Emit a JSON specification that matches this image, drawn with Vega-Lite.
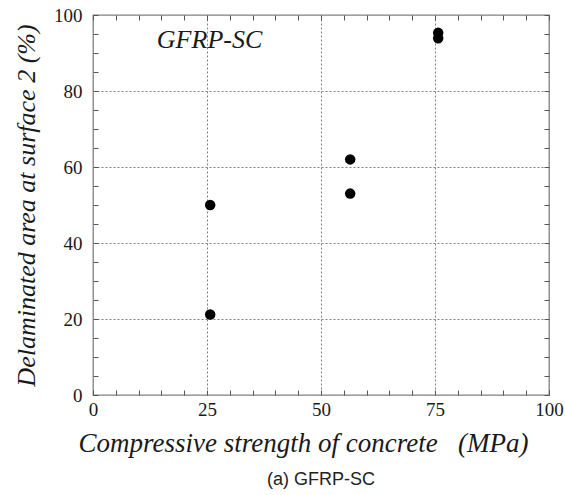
{
  "$schema": "https://vega.github.io/schema/vega-lite/v6.json",
  "width": 456,
  "height": 380,
  "autosize": {"type": "none"},
  "padding": {"left": 93, "top": 15, "right": 16, "bottom": 100},
  "background": "white",
  "config": {
    "view": {"stroke": "#808080", "strokeWidth": 1.3}
  },
  "title": {
    "text": "(a) GFRP-SC",
    "orient": "bottom",
    "anchor": "middle",
    "font": "Liberation Sans",
    "fontSize": 18,
    "fontWeight": "normal",
    "color": "#222222",
    "offset": 15
  },
  "datasets": {
    "points": [
      {"x": 25.7, "y": 50.0},
      {"x": 25.7, "y": 21.2},
      {"x": 56.4, "y": 62.0},
      {"x": 56.4, "y": 53.0},
      {"x": 75.7, "y": 95.3},
      {"x": 75.7, "y": 93.9}
    ],
    "label": [{"x": 14, "y": 91.3, "text": "GFRP-SC"}]
  },
  "resolve": {"axis": {"x": "independent", "y": "independent"}},
  "layer": [
    {
      "data": {"name": "points"},
      "mark": {"type": "circle", "size": 110, "color": "black", "opacity": 1},
      "encoding": {
        "x": {
          "field": "x",
          "type": "quantitative",
          "scale": {"domain": [0, 100], "nice": false, "zero": false},
          "axis": {
            "orient": "bottom",
            "domain": false,
            "offset": -5,
            "values": [0, 5, 10, 15, 20, 25, 30, 35, 40, 45, 50, 55, 60, 65, 70, 75, 80, 85, 90, 95, 100],
            "labelExpr": "datum.value % 25 === 0 ? datum.label : ''",
            "labelFont": "Liberation Serif",
            "labelFontSize": 19,
            "labelColor": "#1a1a1a",
            "labelOverlap": false,
            "labelFlush": false,
            "labelPadding": 5,
            "ticks": true,
            "tickSize": 5,
            "tickWidth": 1,
            "tickColor": "#555555",
            "grid": true,
            "gridColor": "#808080",
            "gridDash": [2, 2],
            "gridWidth": 1,
            "gridOpacity": {"condition": {"test": "datum.value % 25 === 0 && datum.value > 0 && datum.value < 100", "value": 1}, "value": 0},
            "title": "Compressive strength of concrete\u00a0\u00a0\u00a0(MPa)",
            "titleFont": "Liberation Serif",
            "titleFontStyle": "italic",
            "titleFontWeight": "normal",
            "titleColor": "#1a1a1a",
            "titleFontSize": 27,
            "titlePadding": 11,
            "titleX": 210,
            "titleAlign": "center"
          }
        },
        "y": {
          "field": "y",
          "type": "quantitative",
          "scale": {"domain": [0, 100], "nice": false, "zero": false},
          "axis": {
            "orient": "left",
            "domain": false,
            "offset": -5,
            "values": [0, 5, 10, 15, 20, 25, 30, 35, 40, 45, 50, 55, 60, 65, 70, 75, 80, 85, 90, 95, 100],
            "labelExpr": "datum.value % 20 === 0 ? datum.label : ''",
            "labelFont": "Liberation Serif",
            "labelFontSize": 19,
            "labelColor": "#1a1a1a",
            "labelOverlap": false,
            "labelPadding": 11,
            "ticks": true,
            "tickSize": 5,
            "tickWidth": 1,
            "tickColor": "#555555",
            "grid": true,
            "gridColor": "#808080",
            "gridDash": [2, 2],
            "gridWidth": 1,
            "gridOpacity": {"condition": {"test": "datum.value % 20 === 0 && datum.value > 0 && datum.value < 100", "value": 1}, "value": 0},
            "title": "Delaminated area at surface 2 (%)",
            "titleFont": "Liberation Serif",
            "titleFontStyle": "italic",
            "titleFontWeight": "normal",
            "titleColor": "#1a1a1a",
            "titleFontSize": 26,
            "titlePadding": 14
          }
        }
      }
    },
    {
      "data": {"name": "label"},
      "mark": {"type": "text", "font": "Liberation Serif", "fontSize": 26, "fontStyle": "italic", "align": "left", "baseline": "alphabetic", "color": "#1a1a1a"},
      "encoding": {
        "x": {
          "field": "x",
          "type": "quantitative",
          "axis": {
            "orient": "top",
            "domain": false,
            "offset": -5,
            "values": [0, 5, 10, 15, 20, 25, 30, 35, 40, 45, 50, 55, 60, 65, 70, 75, 80, 85, 90, 95, 100],
            "labels": false,
            "ticks": true,
            "tickSize": 5,
            "tickWidth": 1,
            "tickColor": "#555555",
            "grid": false,
            "title": null
          }
        },
        "y": {
          "field": "y",
          "type": "quantitative",
          "axis": {
            "orient": "right",
            "domain": false,
            "offset": -5,
            "values": [0, 5, 10, 15, 20, 25, 30, 35, 40, 45, 50, 55, 60, 65, 70, 75, 80, 85, 90, 95, 100],
            "labels": false,
            "ticks": true,
            "tickSize": 5,
            "tickWidth": 1,
            "tickColor": "#555555",
            "grid": false,
            "title": null
          }
        },
        "text": {"field": "text"}
      }
    }
  ]
}
